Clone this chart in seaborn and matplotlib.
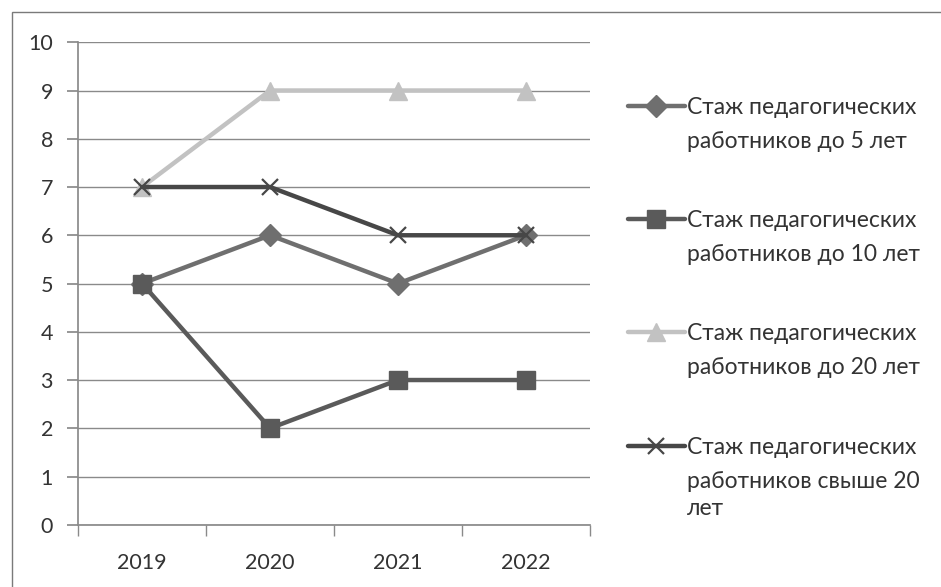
import numpy as np
import pandas as pd
import matplotlib
matplotlib.use("Agg")
import matplotlib.pyplot as plt
import seaborn as sns
from matplotlib.patches import Rectangle

# data
years = ["2019", "2020", "2021", "2022"]
label_first = ["Стаж педагогических"] * 4
label_rest = [
    "работников до 5 лет",
    "работников до 10 лет",
    "работников до 20 лет",
    "работников свыше 20\nлет",
]
series_names = [a + "\n" + b for a, b in zip(label_first, label_rest)]
up_to_5 = [5, 6, 5, 6]
up_to_10 = [5, 2, 3, 3]
up_to_20 = [7, 9, 9, 9]
over_20 = [7, 7, 6, 6]

# styles
colors = ["#6f6f6f", "#5a5a5a", "#c2c2c2", "#474747"]
marker_list = ["D", "s", "^", "x"]
marker_sizes = [11, 13, 13, 12]

# long format for seaborn
df = pd.DataFrame({
    "year": years * 4,
    "value": up_to_5 + up_to_10 + up_to_20 + over_20,
    "series": np.repeat(series_names, len(years)),
})

sns.set_theme(style="white")
plt.rcParams["font.family"] = ["Lato", "DejaVu Sans"]
text_color = "#333333"
fs_leg = 16.5

fig = plt.figure(figsize=(9.41, 5.87), dpi=100)
ax = fig.add_axes([0.083, 0.106, 0.544, 0.822])

for name, first, col, mk, ms in zip(series_names, label_first, colors, marker_list, marker_sizes):
    sub = df[df["series"] == name]
    sns.lineplot(data=sub, x="year", y="value", ax=ax, color=col, lw=3.2,
                 marker=mk, markersize=ms, markeredgecolor=col,
                 markeredgewidth=1.6 if mk == "x" else 1, label=first,
                 sort=False)

ax.set_xlim(-0.5, 3.5)
ax.set_ylim(0, 10)
ax.set_yticks(range(0, 11))
ax.set_xlabel("")
ax.set_ylabel("")

# gridlines and ticks
ax.grid(axis="y", color="#8a8a8a", lw=1)
ax.set_axisbelow(True)
for side in ["top", "right"]:
    ax.spines[side].set_visible(False)
ax.spines["left"].set_color("#8a8a8a")
ax.spines["bottom"].set_color("#8a8a8a")
ax.tick_params(axis="y", left=True, length=8, color="#8a8a8a",
               labelsize=15.5, labelcolor=text_color, pad=10)
ax.set_xticks(np.arange(-0.5, 4, 1), minor=True)
ax.tick_params(axis="x", which="minor", bottom=True, length=8, color="#8a8a8a")
ax.tick_params(axis="x", which="major", bottom=False, labelsize=15.5,
               labelcolor=text_color, pad=14)

# legend on the right: handle next to the first line of each label,
# the rest of the label written underneath
handles, labels = ax.get_legend_handles_labels()
ax.get_legend().remove()
leg = fig.legend(handles, labels, loc="upper left", bbox_to_anchor=(0.655, 0.855),
                 frameon=False, fontsize=fs_leg, labelspacing=4.03, handlelength=2.5,
                 handletextpad=0.1, labelcolor=text_color, borderpad=0)

fig.canvas.draw()
inv = fig.transFigure.inverted()
step = 34 / fig.bbox.height
for txt, rest in zip(leg.get_texts(), label_rest):
    bb = txt.get_window_extent().transformed(inv)
    fig.text(bb.x0, bb.y1 - step, rest, va="top", ha="left", fontsize=fs_leg,
             color=text_color, linespacing=1.35)

# outer frame of the scanned chart
fig.patches.append(Rectangle((0.013, -0.05), 1.1, 1.03, transform=fig.transFigure,
                             fill=False, edgecolor="#7a7a7a", lw=1))

fig.savefig("out.png", dpi=100)
